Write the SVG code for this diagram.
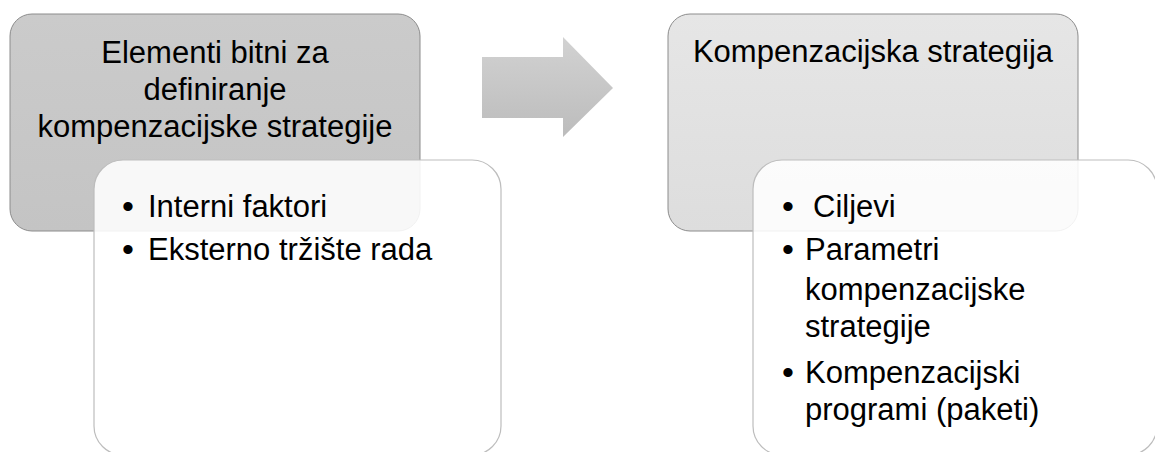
<svg xmlns="http://www.w3.org/2000/svg" width="1155" height="452" viewBox="0 0 1155 452">
<defs>
<linearGradient id="gL" x1="0" y1="0" x2="0" y2="1"><stop offset="0" stop-color="#cbcbcb"/><stop offset="1" stop-color="#c4c4c4"/></linearGradient>
<linearGradient id="gR" x1="0" y1="0" x2="0" y2="1"><stop offset="0" stop-color="#e6e6e6"/><stop offset="1" stop-color="#dddddd"/></linearGradient>
<linearGradient id="gA" x1="0" y1="0" x2="0" y2="1"><stop offset="0" stop-color="#d2d2d2"/><stop offset="1" stop-color="#bcbcbc"/></linearGradient>
<style>
.head{stroke:#8c8c8c;stroke-width:1}
.sub{fill:#ffffff;fill-opacity:0.88;stroke:#bdbdbd;stroke-width:1.2}
text{font-family:"Liberation Sans",Arial,sans-serif;font-size:31px;fill:#000}
.c{text-anchor:middle}
.b{font-size:34px}
</style>
</defs>
<rect width="1155" height="452" fill="#ffffff"/>
<g id="node-left-head">
<rect class="head" x="10" y="14" width="410" height="217" rx="22" fill="url(#gL)"/>
<text class="c" x="215" y="63">Elementi bitni za</text>
<text class="c" x="215" y="100">definiranje</text>
<text class="c" x="215" y="137">kompenzacijske strategije</text>
</g>
<g id="node-left-list">
<rect class="sub" x="94" y="160" width="407" height="295" rx="29"/>
<text class="c b" x="128" y="218">•</text><text x="148" y="217">Interni faktori</text>
<text class="c b" x="128" y="261">•</text><text x="148" y="260">Eksterno tržište rada</text>
</g>
<g id="connectors">
<polygon points="482,57 563,57 563,37 613,88 563,137 563,118 482,118" fill="url(#gA)"/>
</g>
<g id="node-right-head">
<rect class="head" x="668" y="14" width="410" height="217" rx="22" fill="url(#gR)"/>
<text class="c" x="873" y="62">Kompenzacijska strategija</text>
</g>
<g id="node-right-list">
<rect class="sub" x="753" y="160" width="404" height="295" rx="29"/>
<text class="c b" x="788" y="218">•</text><text x="813" y="217">Ciljevi</text>
<text class="c b" x="788" y="261">•</text><text x="805" y="260">Parametri</text>
<text x="805" y="300">kompenzacijske</text>
<text x="805" y="337">strategije</text>
<text class="c b" x="788" y="384">•</text><text x="805" y="383">Kompenzacijski</text>
<text x="805" y="420">programi (paketi)</text>
</g>
</svg>
